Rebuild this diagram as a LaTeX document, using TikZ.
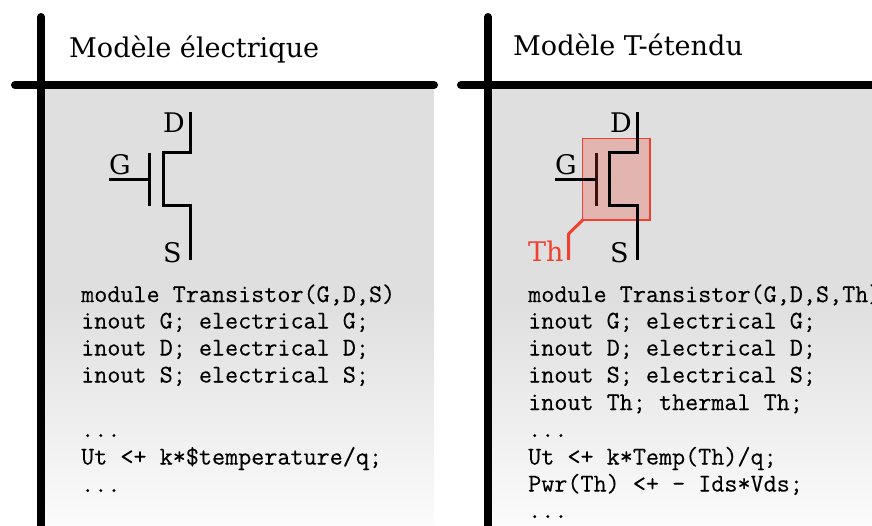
\documentclass[tikz,border=0pt]{standalone}
\usepackage{fontspec}
\setmainfont{DejaVu Serif}
\newfontfamily\codefont[FakeBold=0.25]{Latin Modern Mono}
\definecolor{thred}{HTML}{F04030}
\definecolor{panelgray}{HTML}{DFDFDF}
\tikzset{
  axis/.style={line width=8pt,line cap=round,black},
  wire/.style={line width=3pt,black,line join=miter},
  title/.style={anchor=base west,inner sep=0pt,font=\fontsize{27.1}{30}\selectfont},
  pin/.style={anchor=base west,inner sep=0pt,font=\fontsize{27}{30}\selectfont},
  code/.style={anchor=base west,inner sep=0pt,font=\codefont\fontsize{25.4}{28}\selectfont},
  panel/.style={top color=panelgray,bottom color=white,draw=none}
}
\begin{document}
\begin{tikzpicture}[x=1pt,y=-1pt]
\useasboundingbox (0,0) rectangle (872,526);
\clip (0,0) rectangle (872,526);
% panels
\fill[panelgray] (44,88) rectangle (434,300.5);
\shade[panel] (44,300) rectangle (434,558);
\fill[panelgray] (491,88) rectangle (872,300.5);
\shade[panel] (491,300) rectangle (872,558);
% axes
\coordinate (aT) at (41,17); \coordinate (aB) at (41,540);
\coordinate (aL) at (15,85); \coordinate (aR) at (434,85);
\coordinate (bT) at (488,17); \coordinate (bB) at (488,540);
\coordinate (bL) at (461,85); \coordinate (bR) at (880,85);
\draw[axis] (aT) -- (aB); \draw[axis] (aL) -- (aR);
\draw[axis] (bT) -- (bB); \draw[axis] (bL) -- (bR);
% titles
\node[title] (t1) at (69,57.8) {Modèle électrique};
\node[title] (t2) at (513,55.8) {Modèle T-étendu};
% left transistor
\draw[wire] (190,112) -- (190,153) -- (163,153) -- (163,206) -- (190,206) -- (190,260);
\draw[wire] (149.5,153) -- (149.5,206);
\draw[wire] (109,179.5) -- (149.5,179.5);
\node[pin] (d1) at (163,132.8) {D};
\node[pin] (g1) at (109,174.8) {G};
\node[pin] (s1) at (163,262.6) {S};
% right transistor
\draw[wire] (596,153) -- (596,206);
\fill[thred,fill opacity=0.26] (582.7,138.5) rectangle (650,220);
\draw[thred,line width=1.2pt] (582.7,138.5) rectangle (650,220);
\draw[wire] (637,112) -- (637,153) -- (609.5,153) -- (609.5,206) -- (637,206) -- (637,260);
\draw[wire] (555,179.5) -- (596,179.5);
\draw[thred,line width=3pt] (582.7,220) -- (568.5,234) -- (568.5,260);
\node[pin] (d2) at (610,132.8) {D};
\node[pin] (g2) at (555,174.8) {G};
\node[pin] (s2) at (610,262.6) {S};
\node[pin,text=thred] (th) at (528,262) {Th};
% left code
\node[code] (l1) at (81,302) {module Transistor(G,D,S)};
\node[code] (l2) at (81,328.5) {inout G; electrical G;};
\node[code] (l3) at (81,355.5) {inout D; electrical D;};
\node[code] (l4) at (81,382.5) {inout S; electrical S;};
\node[code] (l5) at (81,437) {...};
\node[code] (l6) at (81,464.5) {Ut <+ k*\$temperature/q;};
\node[code] (l7) at (81,492) {...};
% right code
\node[code] (r1) at (528,302) {module Transistor(G,D,S,Th)};
\node[code] (r2) at (528,328.5) {inout G; electrical G;};
\node[code] (r3) at (528,355.5) {inout D; electrical D;};
\node[code] (r4) at (528,382.5) {inout S; electrical S;};
\node[code] (r5) at (528,410) {inout Th; thermal Th;};
\node[code] (r6) at (528,437) {...};
\node[code] (r7) at (528,464.5) {Ut <+ k*Temp(Th)/q;};
\node[code] (r8) at (528,491.5) {Pwr(Th) <+ - Ids*Vds;};
\node[code] (r9) at (528,518) {...};
\end{tikzpicture}
\end{document}
